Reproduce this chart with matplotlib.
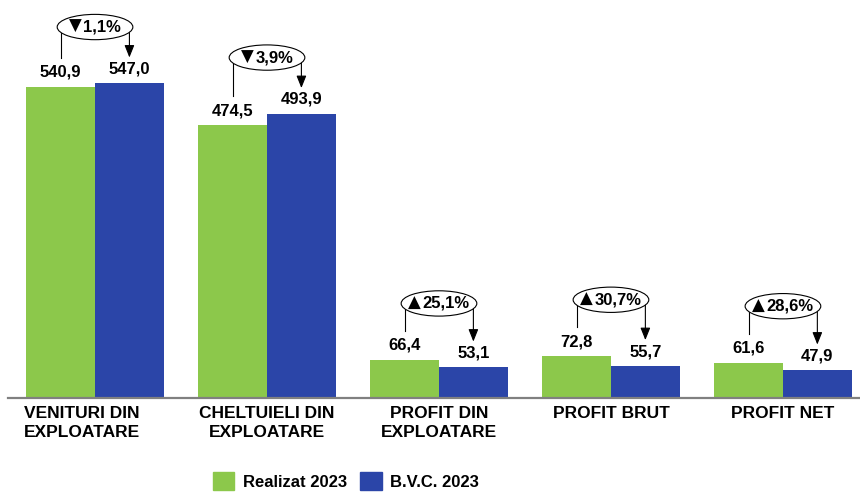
import matplotlib
matplotlib.use("Agg")
import matplotlib.pyplot as plt
from matplotlib.patches import Ellipse, Patch
from matplotlib.transforms import ScaledTranslation
import numpy as np

categories = ["VENITURI DIN\nEXPLOATARE", "CHELTUIELI DIN\nEXPLOATARE",
              "PROFIT DIN\nEXPLOATARE", "PROFIT BRUT", "PROFIT NET"]
realizat = [540.9, 474.5, 66.4, 72.8, 61.6]
bvc = [547.0, 493.9, 53.1, 55.7, 47.9]
variatie = [-1.1, -3.9, 25.1, 30.7, 28.6]

green = "#8CC84B"
blue = "#2B45A8"
narrow = ["Liberation Sans Narrow", "Liberation Sans", "DejaVu Sans"]
plt.rcParams["font.family"] = ["Liberation Sans", "DejaVu Sans"]

def fmt(v):
    return f"{v:.1f}".replace(".", ",")

fig = plt.figure(figsize=(8.6, 4.93), dpi=100)
ax = fig.add_axes([8 / 860, 95 / 493, 852 / 860, 398 / 493])

x = np.arange(len(categories))
w = 0.40
b1 = ax.bar(x - w / 2, realizat, w, color=green, label="Realizat 2023")
b2 = ax.bar(x + w / 2, bvc, w, color=blue, label="B.V.C. 2023")

for rect, v in list(zip(b1, realizat)) + list(zip(b2, bvc)):
    ax.annotate(fmt(v), (rect.get_x() + rect.get_width() / 2, v),
                xytext=(0, 5), textcoords="offset points",
                ha="center", va="bottom", fontsize=12, fontweight="bold")

ax.set_xlim(-0.506, 4.448)
ax.set_ylim(0, 692)

# variation bubbles with connector lines
pairs = []
for i in range(len(categories)):
    top = max(realizat[i], bvc[i])
    cy = top + 98
    ax.plot([x[i] - 0.2, x[i] - 0.2], [cy, realizat[i] + 50],
            color="black", lw=0.8, zorder=3)
    ax.annotate("", xy=(x[i] + 0.2, bvc[i] + 45), xytext=(x[i] + 0.2, cy),
                arrowprops=dict(arrowstyle="-|>,head_length=0.75,head_width=0.3",
                                color="black", lw=0.8, shrinkA=0, shrinkB=0),
                zorder=3)
    ax.add_patch(Ellipse((x[i], cy), 0.44, 44, facecolor="white",
                         edgecolor="black", lw=0.8, zorder=4))
    sym = "▲" if variatie[i] > 0 else "▼"
    t1 = ax.annotate(sym, (x[i], cy), xytext=(0, 0), textcoords="offset points",
                     ha="left", va="center", fontsize=12, zorder=5,
                     family=["DejaVu Sans"])
    t2 = ax.annotate(fmt(abs(variatie[i])) + "%", (x[i], cy), xytext=(0, 0),
                     textcoords="offset points", ha="left", va="center",
                     fontsize=12, fontweight="bold", zorder=5)
    pairs.append((t1, t2))

fig.canvas.draw()
r = fig.canvas.get_renderer()
for t1, t2 in pairs:
    w1 = t1.get_window_extent(r).width * 72 / fig.dpi
    w2 = t2.get_window_extent(r).width * 72 / fig.dpi
    gap = 1.2
    tot = w1 + w2 + gap
    t1.xyann = (-tot / 2, 0.5)
    t2.xyann = (-tot / 2 + w1 + gap, 0)

ax.set_yticks([])
ax.set_xticks(x)
ax.set_xticklabels(categories, fontsize=12.5, fontweight="bold", family=narrow,
                   linespacing=1.3)
ax.tick_params(axis="x", length=0, pad=6)
lab0 = ax.get_xticklabels()[0]
lab0.set_transform(lab0.get_transform() + ScaledTranslation(-0.13, 0, fig.dpi_scale_trans))
for s in ["top", "left", "right"]:
    ax.spines[s].set_visible(False)
ax.spines["bottom"].set_color("#808080")
ax.spines["bottom"].set_linewidth(1.6)

handles = [Patch(color=green), Patch(color=blue)]
fig.legend(handles, ["Realizat 2023", "B.V.C. 2023"], loc="center",
           bbox_to_anchor=(346 / 860, 12 / 493), ncol=2, frameon=False,
           prop={"family": narrow, "weight": "bold", "size": 12},
           handlelength=1.3, handleheight=1.3, handletextpad=0.5,
           columnspacing=0.8)

fig.savefig("out.png", dpi=100)
